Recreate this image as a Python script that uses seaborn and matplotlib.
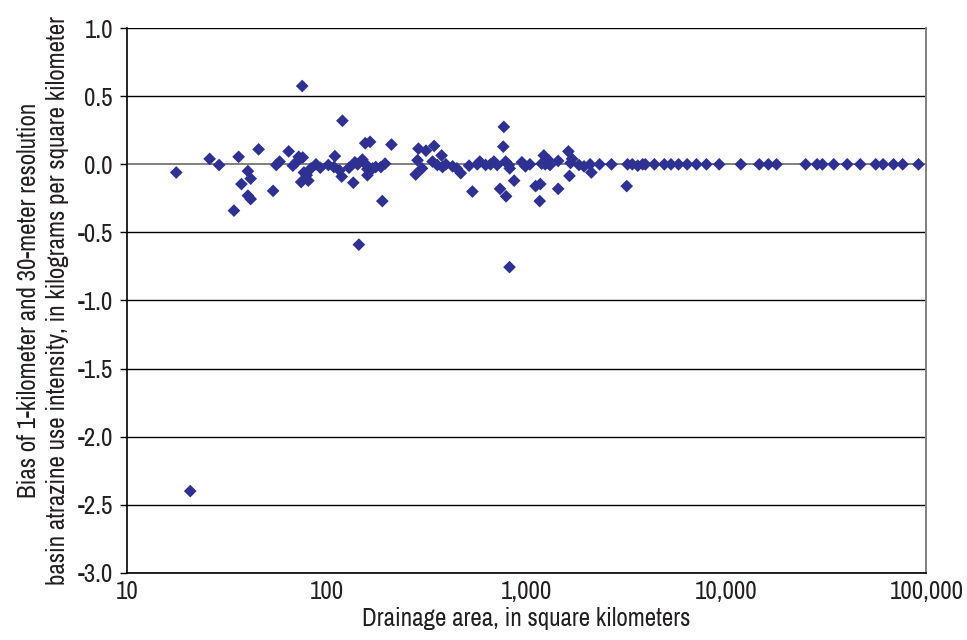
import numpy as np
import pandas as pd
import matplotlib
matplotlib.use("Agg")
import matplotlib.pyplot as plt
import matplotlib.ticker as mticker
from matplotlib import font_manager as fm
import seaborn as sns

# ================= DATA =================
area_km2 = [
    17.7, 20.8, 26, 29, 34.4, 36.3, 37.5, 40.4, 41.7, 40.4, 41.7, 45.7,
    54, 56, 58.2, 64.6, 67.8, 70.5, 72.5, 76, 75.5, 74.6, 77, 79.5, 81,
    83.5, 88.5, 93, 102, 110, 108.8, 116, 119, 120, 129.5, 136, 138.5,
    143, 145, 151, 156, 165, 157, 160, 160, 170, 176, 187, 190, 196, 211,
    279, 285, 288, 300, 314, 339, 345, 358, 376, 380, 395, 427, 448, 469,
    516, 536, 567, 584, 624, 660, 687, 713, 737, 770, 765, 786, 816, 822,
    824, 790, 867, 948, 987, 1040, 1110, 1172, 1164, 1190, 1220, 1240,
    1290, 1310, 1440, 1440, 1620, 1640, 1660, 1690, 1830, 1940, 2080, 2110,
    2320, 2660, 3170, 3200, 3380, 3600, 3810, 3930, 4360, 4890, 5280, 5760,
    6360, 7080, 7940, 9200, 11800, 14600, 16200, 17800, 24900, 28400,
    30200, 34400, 40200, 46700, 55800, 60700, 68500, 76100, 91300,
]
bias = [
    -0.06, -2.40, 0.04, -0.005, -0.34, 0.055, -0.145, -0.05, -0.105, -0.23,
    -0.255, 0.11, -0.195, -0.005, 0.02, 0.095, -0.01, 0.015, 0.055, 0.05,
    0.575, -0.13, -0.06, -0.08, -0.12, -0.03, 0.0, -0.025, -0.005, 0.06,
    -0.02, -0.045, -0.09, 0.32, -0.025, -0.135, 0.015, 0.0, -0.59, 0.035,
    0.155, 0.165, 0.0, -0.035, -0.08, -0.03, -0.02, -0.02, -0.27, 0.005,
    0.145, -0.075, 0.03, 0.115, -0.03, 0.1, 0.02, 0.135, -0.005, 0.065,
    -0.02, 0.0, -0.015, -0.03, -0.065, -0.01, -0.2, 0.0, 0.02, -0.005, 0.0,
    0.02, -0.005, -0.18, 0.275, 0.13, 0.02, -0.005, -0.755, -0.03, -0.235,
    -0.12, 0.015, -0.015, 0.0, -0.16, -0.145, -0.27, 0.005, 0.065, 0.0,
    0.03, -0.005, 0.025, -0.18, 0.095, -0.085, 0.01, 0.04, -0.005, -0.015,
    0.0, -0.06, 0.0, 0.0, -0.16, 0.0, 0.0, -0.01, 0.0, 0.0, 0.0, 0.0, 0.0,
    0.0, 0.0, 0.0, 0.0, 0.0, 0.0, 0.0, 0.0, 0.0, 0.0, 0.0, 0.0, 0.0, 0.0,
    0.0, 0.0, 0.0, 0.0, 0.0, 0.0,
]
x_ticks = [10, 100, 1000, 10000, 100000]
x_tick_labels = ["10", "100", "1,000", "10,000", "100,000"]
y_ticks = [1.0, 0.5, 0.0, -0.5, -1.0, -1.5, -2.0, -2.5, -3.0]

df = pd.DataFrame({"area": area_km2, "bias": bias})

# ================= STYLE =================
sns.set_style("white")

# pick a narrow font if one is installed
fonts = fm.fontManager.ttflist
narrow = [f for f in fonts if "Narrow" in f.name or "Condensed" in f.name]
dejavu_cond = [f for f in fonts if f.name == "DejaVu Sans"
               and str(f.stretch) in ("condensed", "semi-condensed")]
if narrow:
    plt.rcParams["font.family"] = [narrow[0].name, "DejaVu Sans"]
    tick_fs, label_fs = 18, 18
elif dejavu_cond:
    plt.rcParams["font.family"] = ["DejaVu Sans"]
    plt.rcParams["font.stretch"] = "condensed"
    tick_fs, label_fs = 14.5, 14.5
else:
    plt.rcParams["font.family"] = ["DejaVu Sans"]
    tick_fs, label_fs = 14, 13
plt.rcParams["axes.unicode_minus"] = False
text_color = "#231F20"

fig, ax = plt.subplots(figsize=(9.67, 6.4), dpi=100)
fig.subplots_adjust(left=0.131, right=0.958, top=0.956, bottom=0.105)

# gridlines
for yv in y_ticks:
    if yv == 0.0:
        ax.axhline(yv, color="#808080", lw=1.4, zorder=1)
    else:
        ax.axhline(yv, color="black", lw=1.0, zorder=1)

sns.scatterplot(
    data=df, x="area", y="bias", ax=ax,
    marker="D", s=42, color="#2E3192", edgecolor="none", zorder=3,
    legend=False,
)

ax.set_xscale("log")
ax.set_xlim(10, 100000)
ax.set_ylim(-3.0, 1.0)
ax.set_xticks(x_ticks)
ax.set_xticklabels(x_tick_labels)
ax.xaxis.set_minor_locator(mticker.NullLocator())
ax.set_yticks(y_ticks)
ax.yaxis.set_major_formatter(mticker.FormatStrFormatter("%.1f"))

ax.tick_params(axis="y", direction="out", length=5, width=1, color="black",
               labelsize=tick_fs, labelcolor=text_color, pad=5, left=True)
ax.tick_params(axis="x", length=0, labelsize=tick_fs, labelcolor=text_color,
               pad=5)

for side in ["left", "bottom"]:
    ax.spines[side].set_color("black")
    ax.spines[side].set_linewidth(1.2)
ax.spines["top"].set_visible(False)
ax.spines["right"].set_color("#808080")
ax.spines["right"].set_linewidth(1.4)

ax.set_xlabel("Drainage area, in square kilometers", fontsize=label_fs,
              color=text_color, labelpad=3)
ax.set_ylabel("Bias of 1-kilometer and 30-meter resolution\n"
              "basin atrazine use intensity, in kilograms per square kilometer",
              fontsize=label_fs, color=text_color, labelpad=6,
              linespacing=1.3)

plt.savefig("out.png", dpi=100)
